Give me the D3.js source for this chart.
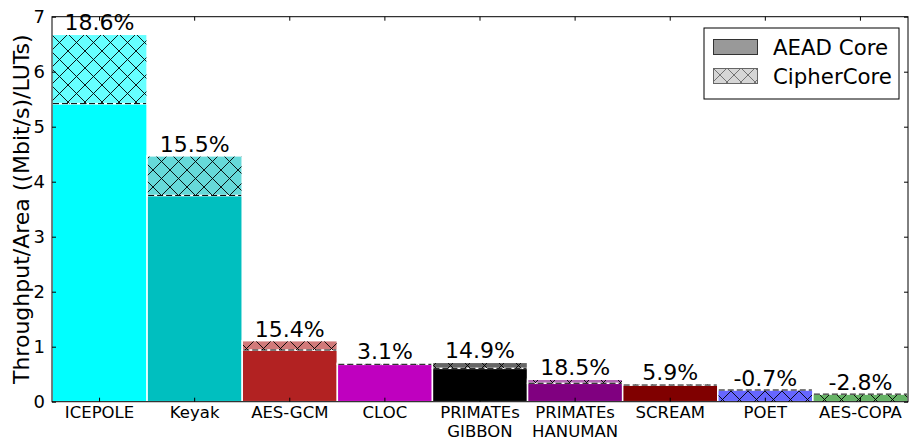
<!DOCTYPE html>
<html><head><meta charset="utf-8">
<script src="https://cdn.jsdelivr.net/npm/d3@7/dist/d3.min.js"></script>
<style>body{margin:0;background:#fff}svg{display:block;font-family:"DejaVu Sans",sans-serif}</style>
</head><body><svg id="c" width="909" height="442"></svg>
<script>
const categories = ["ICEPOLE","Keyak","AES-GCM","CLOC","PRIMATEs\nGIBBON","PRIMATEs\nHANUMAN","SCREAM","POET","AES-COPA"];
const aeadCore   = [5.42, 3.75, 0.94, 0.68, 0.607, 0.335, 0.303, 0.213, 0.138];
const cipherCore = [6.68, 4.47, 1.11, 0.70, 0.716, 0.408, 0.322, 0.211, 0.134];
const pctLabels  = ["18.6%","15.5%","15.4%","3.1%","14.9%","18.5%","5.9%","-0.7%","-2.8%"];
const barColors  = ["#00ffff","#00bfbf","#b22222","#bf00bf","#000000","#800080","#800000","#0000ff","#008000"];
const yTicks = [0,1,2,3,4,5,6,7];

const svg = d3.select("#c");
const L = 52, R = 908, T = 16.7, B = 401.7;
const x = d3.scaleBand().domain(categories).range([L, R]).padding(0);
const y = d3.scaleLinear().domain([0, 7]).range([B, T]);

const defs = svg.append("defs");
const pat = defs.append("pattern").attr("id","hx").attr("patternUnits","userSpaceOnUse")
  .attr("width",17).attr("height",17);
pat.append("path").attr("d","M0,0L17,17M17,0L0,17M-1,16L1,18M16,-1L18,1M16,18L18,16M-1,1L1,-1")
  .attr("stroke","#000").attr("stroke-width",0.9).attr("fill","none");
const pat2 = defs.append("pattern").attr("id","hxl").attr("patternUnits","userSpaceOnUse")
  .attr("width",14).attr("height",14).attr("x",713).attr("y",68);
pat2.append("path").attr("d","M0,0L14,14M14,0L0,14")
  .attr("stroke","#666").attr("stroke-width",0.9).attr("fill","none");

function light(c){ return d3.interpolateRgb("#ffffff", c)(0.6); }

const g = svg.append("g");
categories.forEach((cat,i)=>{
  const x0 = x(cat), w = x.bandwidth();
  const a = aeadCore[i], c = cipherCore[i];
  const col = barColors[i];
  if (c >= a) {
    g.append("rect").attr("x",x0).attr("width",w).attr("y",y(a)).attr("height",y(0)-y(a))
      .attr("fill",col).attr("stroke","#fff").attr("stroke-width",1.5);
    g.append("rect").attr("x",x0).attr("width",w).attr("y",y(c)).attr("height",y(a)-y(c))
      .attr("fill",light(col)).attr("stroke","#fff").attr("stroke-width",1.5);
    g.append("rect").attr("x",x0+0.75).attr("width",w-1.5).attr("y",y(c)+0.75).attr("height",Math.max(0,y(a)-y(c)-0.75))
      .attr("fill","url(#hx)");
  } else {
    g.append("rect").attr("x",x0).attr("width",w).attr("y",y(a)).attr("height",y(0)-y(a))
      .attr("fill",light(col)).attr("stroke","#fff").attr("stroke-width",1.5);
    g.append("rect").attr("x",x0+0.75).attr("width",w-1.5).attr("y",y(a)+0.75).attr("height",y(0)-y(a)-0.75)
      .attr("fill","url(#hx)");
  }
  g.append("line").attr("x1",x0+1).attr("x2",x0+w-1).attr("y1",y(a)).attr("y2",y(a))
    .attr("stroke","#000").attr("stroke-width",1).attr("stroke-dasharray","6,3");
  g.append("text").attr("x",x0+w/2).attr("y",y(Math.max(a,c))-4).attr("text-anchor","middle")
    .attr("font-size",22).attr("fill","#000").text(pctLabels[i]);
});

// frame
svg.append("rect").attr("x",L).attr("y",T).attr("width",R-L).attr("height",B-T)
  .attr("fill","none").attr("stroke","#000").attr("stroke-width",1);

// y axis
const yAx = svg.append("g").attr("transform",`translate(${L},0)`)
  .call(d3.axisLeft(y).tickValues(yTicks).tickSize(-4).tickPadding(7).tickFormat(d3.format("d")));
yAx.select(".domain").remove();
yAx.selectAll("text").attr("font-size",18).attr("font-family","DejaVu Sans").attr("fill","#000");
const yAxR = svg.append("g").attr("transform",`translate(${R},0)`)
  .call(d3.axisRight(y).tickValues(yTicks).tickSize(-4).tickFormat(""));
yAxR.select(".domain").remove();

// x axis
const xAx = svg.append("g").attr("transform",`translate(0,${B})`)
  .call(d3.axisBottom(x).tickSize(-4).tickFormat(""));
xAx.select(".domain").remove();
const xAxT = svg.append("g").attr("transform",`translate(0,${T})`)
  .call(d3.axisTop(x).tickSize(-4).tickFormat(""));
xAxT.select(".domain").remove();
svg.selectAll(".tick line").attr("stroke","#000");

categories.forEach(cat=>{
  const lines = cat.split("\n");
  const t = svg.append("text").attr("x",x(cat)+x.bandwidth()/2).attr("y",417.5)
    .attr("text-anchor","middle").attr("font-size",16.5).attr("fill","#000");
  lines.forEach((ln,j)=>t.append("tspan").attr("x",x(cat)+x.bandwidth()/2).attr("dy", j? 19.3:0).text(ln));
});

svg.append("text").attr("transform",`translate(29,${(T+B)/2}) rotate(-90)`)
  .attr("text-anchor","middle").attr("font-size",22).attr("fill","#000")
  .text("Throughput/Area ((Mbit/s)/LUTs)");

// legend
const lg = svg.append("g");
lg.append("rect").attr("x",704).attr("y",28).attr("width",195).attr("height",71)
  .attr("fill","#fff").attr("stroke","#000").attr("stroke-width",1);
lg.append("rect").attr("x",713.5).attr("y",39.5).attr("width",44).attr("height",15)
  .attr("fill","#999").attr("stroke","#333").attr("stroke-width",1);
lg.append("rect").attr("x",713.5).attr("y",68.5).attr("width",44).attr("height",15)
  .attr("fill","#d6d6d6").attr("stroke","#666").attr("stroke-width",1);
lg.append("rect").attr("x",714).attr("y",69).attr("width",43).attr("height",14).attr("fill","url(#hxl)");
lg.append("text").attr("x",773).attr("y",55).attr("font-size",21.3).attr("fill","#000").text("AEAD Core");
lg.append("text").attr("x",773).attr("y",84).attr("font-size",21.3).attr("fill","#000").text("CipherCore");
</script></body></html>
